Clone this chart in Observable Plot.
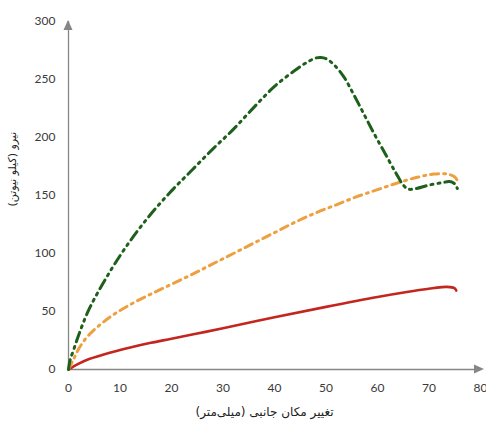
<!DOCTYPE html>
<html>
<head>
<meta charset="utf-8">
<script src="https://cdn.jsdelivr.net/npm/d3@7"></script>
<script src="https://cdn.jsdelivr.net/npm/@observablehq/plot@0.6"></script>
<style>
  body { margin: 0; background: #fff; }
  #chart { width: 486px; height: 427px; }
</style>
</head>
<body>
<div id="chart"></div>
<script>
// Axis ticks
const xTicks = [0, 10, 20, 30, 40, 50, 60, 70, 80];
const yTicks = [0, 50, 100, 150, 200, 250, 300];

// Axis titles
const xTitle = "تغییر مکان جانبی (میلی‌متر)";
const yTitle = "نیرو (کیلو نیوتن)";

// Force–displacement curves (displacement mm, force kN)
const greenX = [0, 0.3, 1, 2, 4, 8, 12, 16, 20, 24, 28, 32, 36, 40, 44, 46, 48, 49, 50, 51.5, 53.5, 55.5, 57.5, 59.5, 61.5, 63.5, 65, 66, 67.5, 70, 72.5, 74, 75, 75.5];
const greenY = [0, 8, 17, 30, 52, 84, 111, 134, 154, 172, 190, 207, 226, 244, 258, 264, 268.5, 269, 268, 263, 252, 236, 219, 202, 186, 170, 159, 155.5, 156, 159, 161, 162, 160, 156];

const orangeX = [0, 1, 2, 4, 8, 12, 16, 20, 24, 28, 32, 36, 40, 44, 48, 52, 56, 60, 64, 68, 71, 73.5, 75, 75.5];
const orangeY = [0, 9, 18, 30, 45, 56, 65, 73.5, 82, 91, 100, 109, 118, 127, 135, 142, 149, 155, 161, 166, 168.5, 168.5, 166, 163];

const redX = [0, 2, 4, 8, 12, 16, 20, 25, 30, 40, 50, 60, 66, 71, 73.5, 75, 75.3];
const redY = [0, 5, 9, 14.5, 19, 23, 26.5, 31, 35.5, 45, 54, 62.5, 67, 70.3, 71.2, 70, 68];

const toRows = (xs, ys) => xs.map((x, i) => ({x, y: ys[i]}));
const green = toRows(greenX, greenY);
const orange = toRows(orangeX, orangeY);
const red = toRows(redX, redY);

const axisColor = "#868686";
const xMax = xTicks[xTicks.length - 1];
const yMax = yTicks[yTicks.length - 1];

const plot = Plot.plot({
  width: 486,
  height: 427,
  marginLeft: 68,
  marginRight: 6,
  marginTop: 21,
  marginBottom: 58,
  style: {fontFamily: "Lato, 'DejaVu Sans', sans-serif", fontSize: "12px", color: "#3a3a3a", background: "#fff"},
  x: {domain: [xTicks[0], xMax]},
  y: {domain: [yTicks[0], yMax]},
  marks: [
    Plot.axisX({ticks: xTicks, tickSize: 0, tickPadding: 14, label: null}),
    Plot.axisY({ticks: yTicks, tickSize: 0, tickPadding: 13, label: null}),
    Plot.ruleY([yTicks[0]], {x1: xTicks[0], x2: xMax, stroke: axisColor, strokeWidth: 1.3}),
    Plot.ruleX([xTicks[0]], {y1: yTicks[0], y2: yMax, stroke: axisColor, strokeWidth: 1.3}),
    Plot.line(red, {x: "x", y: "y", curve: "catmull-rom", stroke: "#c3261f", strokeWidth: 2.6}),
    Plot.line(orange, {x: "x", y: "y", curve: "catmull-rom", stroke: "#eea040", strokeWidth: 3,
      strokeDasharray: "8,5,2,5"}),
    Plot.line(green, {x: "x", y: "y", curve: "catmull-rom", stroke: "#1c601c", strokeWidth: 3,
      strokeDasharray: "10,5,2,5,2,5"}),
    Plot.text([xTitle], {frameAnchor: "bottom", dx: -10, dy: 46, fontFamily: "'DejaVu Sans', sans-serif",
      fontSize: 12, fill: "#222"}),
    Plot.text([yTitle], {frameAnchor: "left", dx: -56, dy: 11, rotate: -90, fontFamily: "'DejaVu Sans', sans-serif",
      fontSize: 11, fill: "#222"})
  ]
});

// Filled arrowheads at the ends of both axes
const sx = plot.scale("x"), sy = plot.scale("y");
const ox = sx.apply(xTicks[0]), oy = sy.apply(yTicks[0]);
const ex = sx.apply(xMax), ey = sy.apply(yMax);
const svg = d3.select(plot);
svg.append("path").attr("d", `M${ex + 4},${oy} l-10,-4.5 l0,9 z`).attr("fill", axisColor);
svg.append("path").attr("d", `M${ox},${ey - 1} l-4.5,10 l9,0 z`).attr("fill", axisColor);

document.getElementById("chart").append(plot);
</script>
</body>
</html>
